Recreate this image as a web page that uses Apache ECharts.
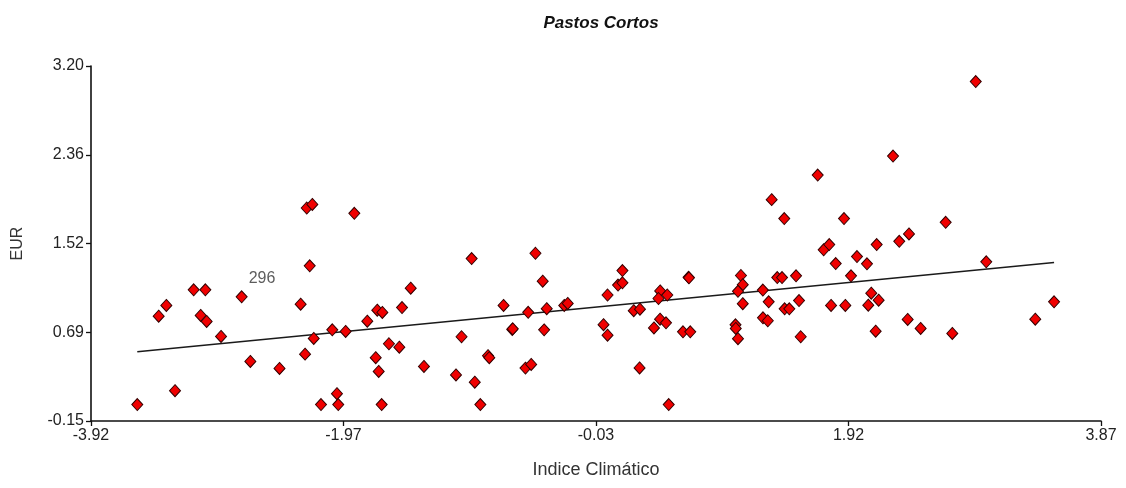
<!DOCTYPE html>
<html>
<head>
<meta charset="utf-8">
<script src="https://cdn.jsdelivr.net/npm/echarts@6/dist/echarts.min.js"></script>
<style>
html,body{margin:0;padding:0;background:#fff;}
#chart{width:1126px;height:488px;}
</style>
</head>
<body>
<div id="chart"></div>
<script>
// ---- data ----
const xValues = [
  -3.563,-3.272,-3.398,-3.339,-3.128,-3.038,-3.074,-3.028,-2.917,-2.758,
  -2.691,-2.466,-2.256,-2.213,-1.889,-2.233,-2.303,-2.202,-2.269,-2.059,
  -1.956,-2.146,-2.023,-2.013,-1.789,-1.712,-1.673,-1.521,-1.454,-1.622,
  -1.542,-1.724,-1.701,-1.678,-1.352,-0.984,-0.492,-0.436,-0.738,-0.548,
  -0.405,-0.270,-0.243,-0.671,-0.667,-0.425,-1.062,-0.858,-0.848,-1.105,
  -0.960,-0.917,-0.569,-0.525, 0.064, 0.033, 0.064, 0.179, 0.145, 0.179,
   0.266, 0.314, 0.311, 0.536, 0.470, 0.457, 0.525, 0.469, 0.515, 0.422,
   0.689, 0.692, 0.646, 0.702, 1.093, 1.107, 1.070, 1.107, 1.051, 1.053,
   1.070, 1.262, 1.307, 1.263, 1.300, 1.330, 1.427, 1.685, 1.888, 2.266,
   1.373, 1.410, 1.518, 1.430, 1.466, 1.541, 1.554, 1.731, 1.774, 1.824,
   1.788, 1.898, 1.942, 1.988, 2.065, 2.140, 2.098, 2.155, 2.075, 2.132,
   2.314, 2.389, 2.379, 2.479, 2.904, 2.672, 2.985, 2.723, 3.363, 3.508
];
const eurValues = [
   0.005, 0.136, 0.839, 0.940, 1.088, 1.088, 0.846, 0.789, 0.648, 1.022,
   0.412, 0.346, 1.860, 1.894, 1.810, 1.314, 0.952, 0.629, 0.481, 0.711,
   0.695, 0.005, 0.108, 0.005, 0.792, 0.896, 0.874, 0.921, 1.103, 0.579,
   0.547, 0.447, 0.318, 0.005, 0.365, 1.383, 1.433, 1.169, 0.940, 0.876,
   0.910, 0.940, 0.959, 0.714, 0.720, 0.710, 0.645, 0.466, 0.447, 0.285,
   0.216, 0.005, 0.349, 0.384, 1.039, 0.759, 0.660, 1.270, 1.133, 1.154,
   0.891, 0.905, 0.351, 0.005, 1.077, 1.006, 1.039, 0.811, 0.777, 0.728,
   1.206, 1.201, 0.692, 0.692, 1.223, 1.136, 1.074, 0.957, 0.758, 0.723,
   0.627, 1.086, 0.975, 0.824, 0.796, 1.939, 1.760, 2.171, 1.760, 2.350,
   1.204, 1.204, 1.220, 0.909, 0.909, 0.987, 0.645, 1.465, 1.515, 1.336,
   0.940, 0.940, 1.220, 1.402, 1.333, 1.515, 1.056, 0.990, 0.943, 0.698,
   1.546, 1.615, 0.808, 0.723, 3.053, 1.725, 1.352, 0.676, 0.811, 0.975
];
const trendX = [-3.563, 3.508];
const trendY = [0.504, 1.345];
const annotationText = ['296'];
const annotationX = [-2.601];
const annotationY = [1.194];
const xTickLabels = ['-3.92','-1.97','-0.03','1.92','3.87'];
const yTickLabels = ['-0.15','0.69','1.52','2.36','3.20'];
const titleText = 'Pastos Cortos';
const xName = 'Indice Climático';
const yName = 'EUR';

// ---- build ----
const points = xValues.map((x, i) => [x, eurValues[i]]);
const trend = trendX.map((x, i) => [x, trendY[i]]);
const notes = annotationX.map((x, i) => ({ value: [x, annotationY[i]], name: annotationText[i] }));

const FONT = "'Liberation Sans', Arial, sans-serif";
const chart = echarts.init(document.getElementById('chart'), null, { renderer: 'canvas' });

const axisCommon = {
  type: 'value',
  splitLine: { show: false },
  axisLine: { show: true, onZero: false, lineStyle: { color: '#111', width: 1.6 } },
  axisTick: { show: true, inside: false, length: 5, lineStyle: { color: '#111', width: 1.3 } },
  nameLocation: 'middle'
};

chart.setOption({
  animation: false,
  backgroundColor: '#fff',
  title: {
    text: titleText,
    left: 596, textAlign: 'center',
    top: 10,
    textStyle: { fontFamily: FONT, fontSize: 17, fontStyle: 'italic', fontWeight: 'bold', color: '#111' }
  },
  grid: { left: 91, right: 25, top: 66, bottom: 67, containLabel: false },
  xAxis: Object.assign({}, axisCommon, {
    min: -3.92, max: 3.87, interval: 1.9475,
    name: xName, nameGap: 40,
    nameTextStyle: { fontFamily: FONT, fontSize: 18, color: '#333' },
    axisLabel: {
      margin: 7, fontFamily: FONT, fontSize: 16, color: '#222',
      formatter: (v, i) => xTickLabels[i] !== undefined ? xTickLabels[i] : ''
    }
  }),
  yAxis: Object.assign({}, axisCommon, {
    min: -0.15, max: 3.20, interval: 0.8375,
    name: yName, nameGap: 65,
    nameTextStyle: { fontFamily: FONT, fontSize: 16, color: '#333' },
    axisLabel: {
      margin: 7, fontFamily: FONT, fontSize: 16, color: '#222',
      formatter: (v, i) => yTickLabels[i] !== undefined ? yTickLabels[i] : ''
    }
  }),
  series: [
    {
      type: 'line',
      data: trend,
      symbol: 'none',
      lineStyle: { color: '#1a1a1a', width: 1.6 },
      z: 2
    },
    {
      type: 'scatter',
      data: points,
      symbol: 'diamond',
      symbolSize: [11, 12],
      itemStyle: { color: '#f00000', borderColor: '#300', borderWidth: 1, opacity: 1 },
      z: 3
    },
    {
      type: 'scatter',
      data: notes,
      symbolSize: 0,
      label: {
        show: true, position: 'inside',
        formatter: p => p.name,
        fontFamily: FONT, fontSize: 16, color: '#333'
      },
      z: 4
    }
  ]
});
</script>
</body>
</html>
